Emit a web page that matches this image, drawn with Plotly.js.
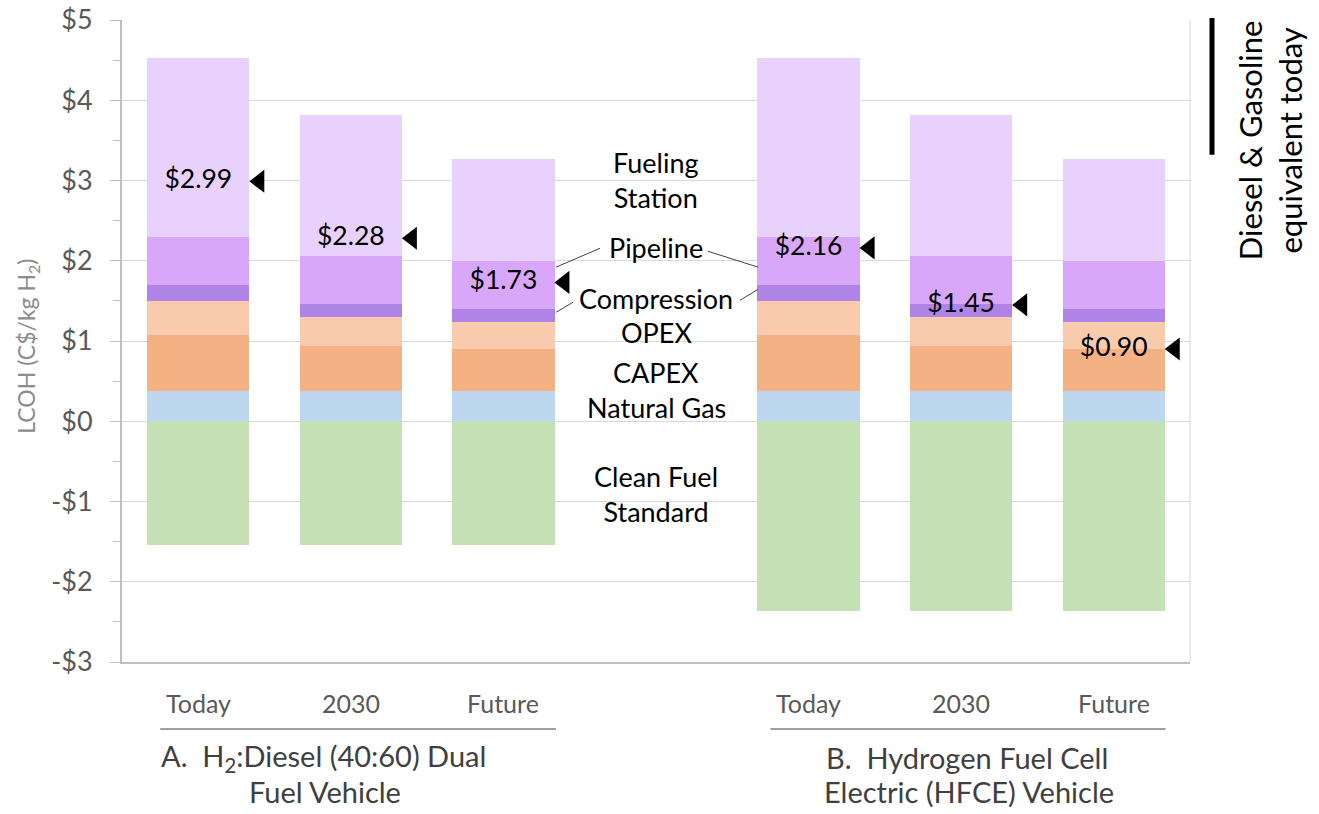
<!DOCTYPE html>
<html>
<head>
<meta charset="utf-8">
<script src="https://cdn.plot.ly/plotly-3.0.1.min.js"></script>
<style>html,body{margin:0;padding:0;background:#fff;}#chart{width:1319px;height:814px;}</style>
</head>
<body>
<div id="chart"></div>
<script>
// ---- data ----
const xPos = [0, 1, 2, 4, 5, 6];
const categories = ["Today", "2030", "Future", "Today", "2030", "Future"];
const cleanFuelStandard = [-1.54, -1.54, -1.54, -2.37, -2.37, -2.37];
const naturalGas = [0.38, 0.38, 0.38, 0.38, 0.38, 0.38];
const capex = [0.69, 0.56, 0.52, 0.69, 0.56, 0.52];
const opex = [0.43, 0.36, 0.34, 0.43, 0.36, 0.34];
const compression = [0.20, 0.16, 0.16, 0.20, 0.16, 0.16];
const pipeline = [0.60, 0.60, 0.60, 0.60, 0.60, 0.60];
const fuelingStation = [2.23, 1.76, 1.27, 2.23, 1.76, 1.27];
const yTickVals = [-3, -2, -1, 0, 1, 2, 3, 4, 5];
const yTickText = ["-$3", "-$2", "-$1", "$0", "$1", "$2", "$3", "$4", "$5"];
const groupLabelsA = ["A.  H<sub>2</sub>:Diesel (40:60) Dual", "Fuel Vehicle"];
const groupLabelsB = ["B.  Hydrogen Fuel Cell", "Electric (HFCE) Vehicle"];

const net = xPos.map((_, i) => cleanFuelStandard[i] + naturalGas[i] + capex[i] + opex[i] + compression[i] + pipeline[i] + fuelingStation[i]);
const netText = net.map(v => "$" + v.toFixed(2));

const FONT = "Lato, 'Open Sans', sans-serif";
const W = 0.67;
function bar(name, y, color) {
  return { type: "bar", name: name, x: xPos, y: y, width: W, marker: { color: color, line: { width: 0 } }, hoverinfo: "skip", showlegend: false };
}
const traces = [
  bar("Clean Fuel Standard", cleanFuelStandard, "#C5E0B4"),
  bar("Natural Gas", naturalGas, "#BDD7EE"),
  bar("CAPEX", capex, "#F4B183"),
  bar("OPEX", opex, "#F8CBAD"),
  bar("Compression", compression, "#B083E6"),
  bar("Pipeline", pipeline, "#D9A7FA"),
  bar("Fueling Station", fuelingStation, "#E9D1FD"),
  { type: "scatter", mode: "text", x: xPos, y: net, text: netText, textposition: "middle center",
    textfont: { family: FONT, size: 26.5, color: "#000" }, showlegend: false, hoverinfo: "skip" },
  { type: "scatter", mode: "markers", x: xPos.map(v => v + 0.40), y: net,
    marker: { symbol: "triangle-left", size: 20, color: "#000" }, showlegend: false, hoverinfo: "skip" }
];

const ann = [];
const midX = 3;
const mid = [
  ["Fueling<br>Station", 3.01], ["Pipeline", 2.16], ["Compression", 1.53], ["OPEX", 1.11],
  ["CAPEX", 0.61], ["Natural Gas", 0.17], ["Clean Fuel<br>Standard", -0.91]
];
mid.forEach(m => ann.push({ x: midX, y: m[1], xref: "x", yref: "y", text: m[0], showarrow: false,
  xanchor: "center", yanchor: "middle", font: { family: FONT, size: 27, color: "#000" } }));
// category labels
xPos.forEach((x, i) => ann.push({ x: x, y: -0.064, xref: "x", yref: "paper", text: categories[i], showarrow: false,
  xanchor: "center", yanchor: "middle", font: { family: FONT, size: 25, color: "#595959" } }));
// group labels
function grp(x, y, t, anchor) {
  ann.push({ x: x, y: y, xref: "x", yref: "paper", text: t, showarrow: false, xanchor: "center", yanchor: anchor,
    font: { family: FONT, size: 29, color: "#404040" } });
}
grp(0.82, -0.149, groupLabelsA[0], "middle");
grp(0.83, -0.2325, groupLabelsA[1], "bottom");
grp(5.04, -0.149, groupLabelsB[0], "middle");
grp(5.05, -0.2325, groupLabelsB[1], "bottom");
// y title
ann.push({ x: -0.088, y: 0.491, xref: "paper", yref: "paper", text: "LCOH (C$/kg H<sub>2</sub>)", textangle: -90, showarrow: false,
  xanchor: "center", yanchor: "middle", font: { family: FONT, size: 23, color: "#8c8c8c" } });
// right note
ann.push({ x: 1.075, y: 0.813, xref: "paper", yref: "paper", text: "Diesel &amp; Gasoline<br>equivalent today", textangle: -90, showarrow: false,
  xanchor: "center", yanchor: "middle", font: { family: FONT, size: 31, color: "#000" } });

const lineC = { color: "#404040", width: 1 };
const shapes = [
  { type: "line", xref: "x", yref: "y", x0: 2.345, y0: 1.92, x1: 2.633, y1: 2.156, line: lineC },
  { type: "line", xref: "x", yref: "y", x0: 3.341, y0: 2.118, x1: 3.669, y1: 1.92, line: lineC },
  { type: "line", xref: "x", yref: "y", x0: 2.345, y0: 1.358, x1: 2.456, y1: 1.483, line: lineC },
  { type: "line", xref: "x", yref: "y", x0: 3.551, y0: 1.508, x1: 3.669, y1: 1.645, line: lineC },
  { type: "line", xref: "paper", yref: "paper", x0: 1, y0: 0, x1: 1, y1: 1, line: { color: "#d9d9d9", width: 1 } },
  { type: "line", xref: "paper", yref: "paper", x0: 1.0206, y0: 1.003, x1: 1.0206, y1: 0.79, line: { color: "#000", width: 5 } },
  { type: "line", xref: "x", yref: "paper", x0: -0.25, y0: -0.1044, x1: 2.345, y1: -0.1044, line: { color: "#404040", width: 1 } },
  { type: "line", xref: "x", yref: "paper", x0: 3.75, y0: -0.1044, x1: 6.34, y1: -0.1044, line: { color: "#404040", width: 1 } }
];

const layout = {
  width: 1319, height: 814,
  margin: { l: 122, r: 129, t: 20, b: 152, pad: 0 },
  paper_bgcolor: "#fff", plot_bgcolor: "#fff",
  barmode: "relative", bargap: 0,
  showlegend: false, hovermode: false,
  font: { family: FONT },
  xaxis: { range: [-0.5, 6.5], showticklabels: false, ticks: "", showgrid: false, zeroline: false,
    showline: true, linecolor: "#bfbfbf", linewidth: 2, fixedrange: true },
  yaxis: { range: [-3, 5], tickvals: yTickVals, ticktext: yTickText, ticks: "outside", ticklen: 10, tickcolor: "#bfbfbf", tickwidth: 1,
    showgrid: true, gridcolor: "#d9d9d9", gridwidth: 1, zeroline: true, zerolinecolor: "#d9d9d9", zerolinewidth: 1,
    showline: true, linecolor: "#bfbfbf", linewidth: 2, ticklabelstandoff: 12,
    tickfont: { family: FONT, size: 27, color: "#595959" },
    minor: { dtick: 0.5, ticks: "outside", ticklen: 7, tickcolor: "#bfbfbf", showgrid: false },
    fixedrange: true },
  annotations: ann,
  shapes: shapes
};
Plotly.newPlot("chart", traces, layout, { displayModeBar: false, staticPlot: true });
</script>
</body>
</html>
